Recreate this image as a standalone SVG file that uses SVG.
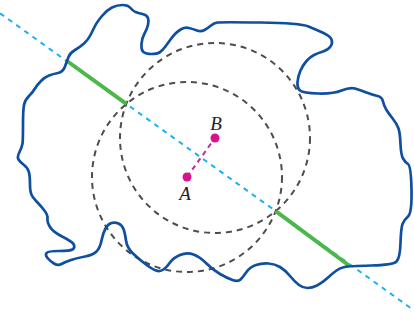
<svg xmlns="http://www.w3.org/2000/svg" width="414" height="321" viewBox="0 0 414 321">
<style>
.circ{fill:none;stroke:#4d4d4d;stroke-width:2;stroke-dasharray:6 5}
.cyan{stroke:#1ab2ec;stroke-width:2;stroke-dasharray:5 5;fill:none}
.green{stroke:#4cb84a;stroke-width:4;stroke-linecap:butt;fill:none}
.blob{fill:none;stroke:#0f4fa0;stroke-width:2.7;stroke-linejoin:round}
.mag{stroke:#c82a96;stroke-width:2;stroke-dasharray:5 4;fill:none}
.dot{fill:#d9128c}
.lbl{font-family:"Liberation Serif","DejaVu Serif",serif;font-style:italic;font-size:19px;fill:#222;text-anchor:middle}
</style>
<rect width="414" height="321" fill="#fff"/>
<g id="circles">
<circle class="circ" cx="187" cy="177" r="95"/>
<circle class="circ" cx="215" cy="138" r="95"/>
</g>
<g id="connectors">
<line class="cyan" x1="0" y1="13.2" x2="414" y2="310.4"/>
<line class="green" x1="67" y1="61" x2="126.3" y2="103.9"/>
<line class="green" x1="275.7" y1="211.1" x2="349" y2="265.5"/>
<line class="mag" x1="187" y1="177" x2="215" y2="138"/>
</g>
<path id="region" class="blob" d="M 68.5 57 Q 70 53 75 50 Q 80 47 84 43.5 Q 88 40 90.5 35 Q 93 30 95 26 Q 97 22 102 16 Q 107 10 112 7.5 Q 117 5 122.5 5 Q 128 5 130.5 8 Q 133 11 135.5 12 Q 138 13 142.5 14 Q 147 15 148 18 Q 149 21 148 25 Q 147 29 144.5 33.5 Q 142 38 141.5 44 Q 141 50 143.5 52 Q 146 54 151.5 54 Q 157 54 159.5 52.5 Q 162 51 165 47 Q 168 43 170.5 39.5 Q 173 36 175.5 33.5 Q 178 31 181.5 29 Q 185 27 189 28 Q 193 29 197 30.5 Q 201 32 204.5 30 Q 208 28 211 25.5 Q 214 23 217.5 22.5 Q 221 22 260.5 22.5 Q 300 23 308.5 26.5 Q 317 30 323.5 33 Q 330 36 331.5 39.5 Q 333 43 330.5 46.5 Q 328 50 323 51.5 Q 318 53 314 55 Q 310 57 306.5 61 Q 303 65 300.5 70.5 Q 298 76 297.5 82 Q 297 88 300 90.5 Q 303 93 318 93.5 Q 333 94 341.5 90.5 Q 350 87 355 88.5 Q 360 90 366.5 92.5 Q 373 95 377.5 96 Q 382 97 383 101.5 Q 384 106 386.5 110 Q 389 114 393 119 Q 397 124 398.5 128.5 Q 400 133 400.5 144 Q 401 155 403 158.5 Q 405 162 408 164 Q 411 166 411.5 189.5 Q 412 213 408 216.5 Q 404 220 402.5 224 Q 401 228 400.5 243 Q 400 258 396.5 261.5 Q 393 265 371 265.5 Q 349 266 344.5 267 Q 340 268 336.5 270.5 Q 333 273 327.5 278 Q 322 283 317 285.5 Q 312 288 307.5 288 Q 303 288 299 285 Q 295 282 290 276 Q 285 270 280 267 Q 275 264 268.5 263.5 Q 262 263 256 265 Q 250 267 246.5 272 Q 243 277 240.5 279.5 Q 238 282 232.5 280 Q 227 278 220 274 Q 213 270 206.5 263.5 Q 200 257 193.5 254.5 Q 187 252 180 255 Q 173 258 170 262.5 Q 167 267 163.5 269.5 Q 160 272 156 270.5 Q 152 269 146 264.5 Q 140 260 133.5 254 Q 127 248 126 240.5 Q 125 233 123.5 229 Q 122 225 118.5 223.5 Q 115 222 111.5 223 Q 108 224 105.5 228.5 Q 103 233 101.5 240.5 Q 100 248 96.5 251.5 Q 93 255 85 256.5 Q 77 258 71 260 Q 65 262 61.5 264 Q 58 266 54 263.5 Q 50 261 47.5 258 Q 45 255 46.5 253 Q 48 251 59 251 Q 70 251 72.5 249.5 Q 75 248 74 245 Q 73 242 63 237 Q 53 232 50 227 Q 47 222 47.5 218.5 Q 48 215 44 210 Q 40 205 37.5 202.5 Q 35 200 32.5 196.5 Q 30 193 30 185 Q 30 177 29 172.5 Q 28 168 24 165 Q 20 162 18.5 159.5 Q 17 157 19.5 152 Q 22 147 22.5 143.5 Q 23 140 23 125 Q 23 110 24 105 Q 25 100 29 96 Q 33 92 35 88.5 Q 37 85 41 81 Q 45 77 49 75.5 Q 53 74 58 73 Q 63 72 65 66.5 Q 67 61 68.5 57 Z"/>
<g id="pointA">
<circle class="dot" cx="187" cy="177" r="4.5"/>
<text class="lbl" x="185" y="200">A</text>
</g>
<g id="pointB">
<circle class="dot" cx="215" cy="138" r="4.5"/>
<text class="lbl" x="216" y="130">B</text>
</g>
</svg>
